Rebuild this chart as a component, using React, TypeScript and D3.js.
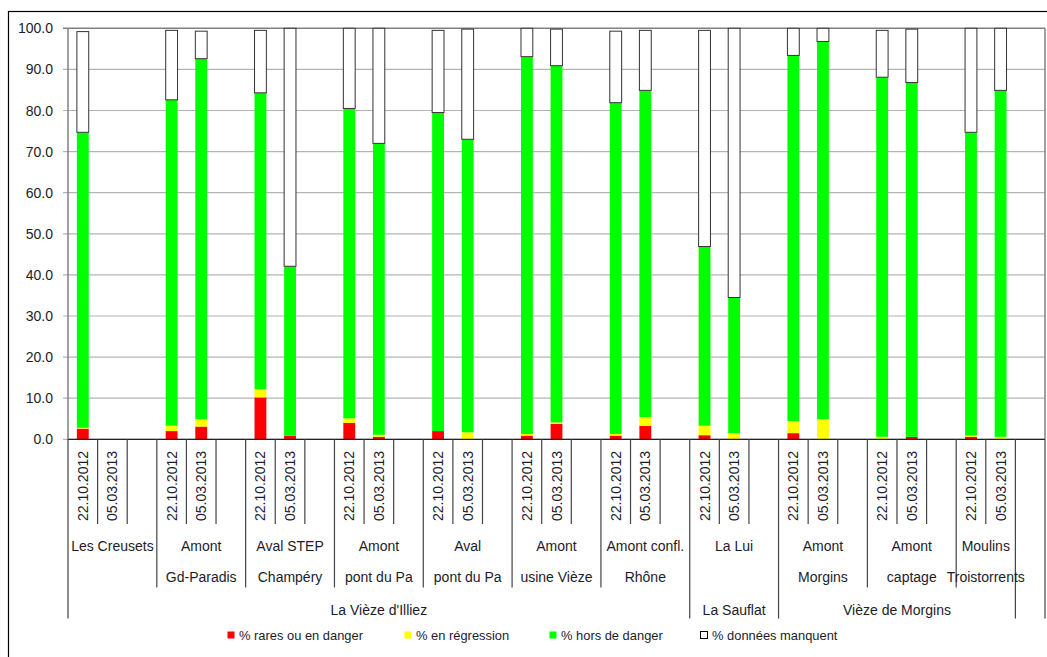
import React from "react";
import * as d3 from "d3";

// ---- Data ----
const dates = ["22.10.2012", "05.03.2013"];
const stationLine1 = ["Les Creusets", "Amont", "Aval STEP", "Amont", "Aval", "Amont", "Amont confl.", "La Lui", "Amont", "Amont", "Moulins"];
const stationLine2 = ["", "Gd-Paradis", "Champéry", "pont du Pa", "pont du Pa", "usine Vièze", "Rhône", "", "Morgins", "captage", "Troistorrents"];
const stationRiver = [0, 0, 0, 0, 0, 0, 0, 1, 2, 2, 2];
const rivers = ["La Vièze d'Illiez", "La Sauflat", "Vièze de Morgins"];

// values per bar, station by station, date by date
const rares = [2.6, 0, 2.0, 3.1, 10.2, 0.9, 4.0, 0.6, 2.0, 0, 0.9, 3.8, 0.9, 3.3, 1.0, 0, 1.5, 0, 0, 0.6, 0.6, 0];
const regression = [0.2, 0, 1.3, 1.8, 2.0, 0, 1.1, 0.5, 0, 1.7, 0.4, 0.3, 0.4, 2.1, 2.3, 1.5, 2.9, 4.9, 0.6, 0, 0.3, 0.6];
const horsDanger = [71.9, 0, 79.3, 87.7, 72.1, 41.2, 75.4, 70.9, 77.5, 71.3, 91.8, 86.8, 80.6, 79.5, 43.6, 33.0, 89.0, 91.9, 87.5, 86.2, 73.8, 84.3];
const manquent = [24.5, 0, 16.9, 6.7, 15.2, 57.9, 19.5, 28.0, 20.0, 26.8, 6.9, 8.9, 17.4, 14.6, 52.6, 65.5, 6.6, 3.2, 11.4, 13.0, 25.3, 15.1];

const seriesNames = ["% rares ou en danger", "% en régression", "% hors de danger", "% données manquent"];
const seriesKeys = ["rares", "regression", "horsDanger", "manquent"];
const seriesColors = ["#ff0000", "#ffff00", "#00ff00", "#ffffff"];
const yTicks = [0, 10, 20, 30, 40, 50, 60, 70, 80, 90, 100];

type Slot = { key: string; station: number; river: number; date: number; bar: number };

const slots: Slot[] = [];
{
  let b = 0;
  stationLine1.forEach((_, s) => {
    dates.forEach((_, d) => {
      slots.push({ key: `s${s}d${d}`, station: s, river: stationRiver[s], date: d, bar: b++ });
    });
    if (s < stationLine1.length - 1) slots.push({ key: `s${s}sp`, station: s, river: stationRiver[s], date: -1, bar: -1 });
  });
  slots.push({ key: "end", station: -1, river: -1, date: -1, bar: -1 });
}

const barRows = rares.map((_, i) => ({
  i,
  rares: rares[i],
  regression: regression[i],
  horsDanger: horsDanger[i],
  manquent: manquent[i],
}));

const FONT = "'Liberation Sans', Arial, sans-serif";

export default function App() {
  const W = 1047, H = 657;
  const x = d3.scaleBand<string>().domain(slots.map((s) => s.key)).range([68, 1045]).padding(0);
  const y = d3.scaleLinear().domain([0, 100]).range([439.3, 28.3]);
  const stack = d3.stack<any>().keys(seriesKeys)(barRows);
  const barSlots = slots.filter((s) => s.bar >= 0);
  const bw = x.bandwidth() * 0.4;
  const yBase = y(0);
  const L1 = 524, L2 = 587.5, L3 = 618.5;

  // separators
  const seps: { x: number; y2: number }[] = [];
  for (let b = 0; b <= slots.length; b++) {
    const px = b < slots.length ? x(slots[b].key)! : x.range()[1];
    let y2 = L3;
    if (b > 0 && b < slots.length) {
      const a = slots[b - 1], c = slots[b];
      if (a.river !== c.river) y2 = L3;
      else if (a.station !== c.station) y2 = L2;
      else y2 = L1;
    }
    seps.push({ x: px, y2 });
  }

  const stationExtent = stationLine1.map((_, s) => {
    const ss = slots.filter((t) => t.station === s);
    return [x(ss[0].key)!, x(ss[ss.length - 1].key)! + x.bandwidth()];
  });
  const riverExtent = rivers.map((_, r) => {
    const ss = slots.filter((t) => t.river === r);
    return [x(ss[0].key)!, x(ss[ss.length - 1].key)! + x.bandwidth()];
  });

  const legendX = [227, 404, 549, 700];

  return (
    <svg width={W} height={H} style={{ position: "absolute", left: 0, top: 0, background: "#fff" }} fontFamily={FONT}>
      <rect x={8.5} y={11.5} width={W + 10} height={H + 10} fill="#fff" stroke="#000" strokeWidth={1.2} />
      {/* gridlines */}
      {yTicks.map((t) => (
        <g key={t}>
          <line x1={63} x2={1045} y1={y(t)} y2={y(t)} stroke={t === 100 ? "#808080" : "#b4b4b4"} strokeWidth={t === 100 ? 1.5 : 1.2} />
          <text x={53} y={y(t)} dy="0.36em" textAnchor="end" fontSize={14} fill="#1c1c2c">
            {t.toFixed(1)}
          </text>
        </g>
      ))}
      <line x1={68} x2={68} y1={y(100)} y2={yBase} stroke="#808080" strokeWidth={1.5} />
      <line x1={1045} x2={1045} y1={y(100)} y2={yBase} stroke="#808080" strokeWidth={1.5} />
      {/* bars */}
      {stack.map((ser, si) => (
        <g key={ser.key}>
          {ser.map((d, j) => {
            const s = barSlots[j];
            const h = y(d[0]) - y(d[1]);
            if (h <= 0) return null;
            const cx = x(s.key)! + x.bandwidth() / 2;
            return (
              <rect
                key={j}
                x={cx - bw / 2}
                y={y(d[1])}
                width={bw}
                height={h}
                fill={seriesColors[si]}
                stroke={si === 3 ? "#333" : "none"}
                strokeWidth={si === 3 ? 1 : 0}
              />
            );
          })}
        </g>
      ))}
      {/* category axis */}
      <line x1={68} x2={1045} y1={yBase} y2={yBase} stroke="#222" strokeWidth={1.2} />
      {seps.map((s, i) => (
        <line key={i} x1={s.x} x2={s.x} y1={yBase} y2={s.y2} stroke="#444" strokeWidth={1.2} />
      ))}
      {barSlots.map((s) => {
        const cx = x(s.key)! + x.bandwidth() / 2;
        return (
          <text key={s.key} transform={`translate(${cx},451) rotate(-90)`} textAnchor="end" dy="0.36em" fontSize={14} fill="#1c1c2c">
            {dates[s.date]}
          </text>
        );
      })}
      {stationLine1.map((n, s) => {
        const cx = (stationExtent[s][0] + stationExtent[s][1]) / 2;
        return (
          <g key={s}>
            <text x={cx} y={545.7} dy="0.36em" textAnchor="middle" fontSize={14} fill="#1c1c2c">{n}</text>
            {stationLine2[s] && (
              <text x={cx} y={577.3} dy="0.36em" textAnchor="middle" fontSize={14} fill="#1c1c2c">{stationLine2[s]}</text>
            )}
          </g>
        );
      })}
      {rivers.map((r, i) => (
        <text key={r} x={(riverExtent[i][0] + riverExtent[i][1]) / 2} y={610} dy="0.36em" textAnchor="middle" fontSize={14} fill="#1c1c2c">
          {r}
        </text>
      ))}
      {/* legend */}
      {seriesNames.map((n, i) => (
        <g key={n}>
          <rect x={legendX[i] + 0.5} y={631.5} width={7} height={7} fill={seriesColors[i]} stroke={i === 3 ? "#000" : "none"} />
          <text x={legendX[i] + 12} y={635} dy="0.36em" fontSize={12.9} fill="#1c1c2c">{n}</text>
        </g>
      ))}
    </svg>
  );
}
